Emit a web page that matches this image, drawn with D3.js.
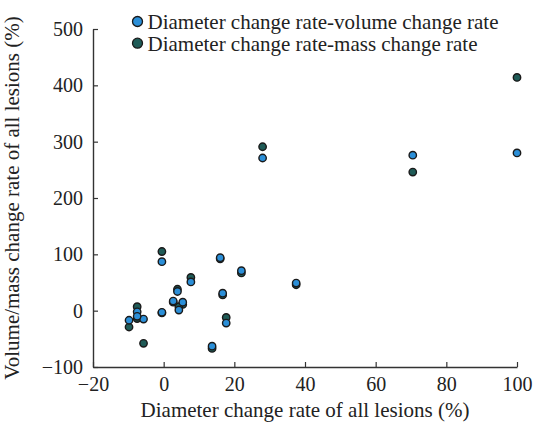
<!DOCTYPE html>
<html>
<head>
<meta charset="utf-8">
<script src="https://cdn.jsdelivr.net/npm/d3@7"></script>
<style>
  body { margin: 0; background: #fff; }
  text { font-family: "Liberation Serif", "Times New Roman", serif; fill: #222; }
</style>
</head>
<body>
<div id="chart"></div>
<script>
// diameter change rate for each lesion (%)
const diameterRate = [100, 70.5, 28, 37.5, 22, 16, 16.7, 17.7, 13.7, 7.7, 5.4, 3.9, 4.3, 2.7, -0.5, -0.5, -5.7, -7.5, -7.5, -9.8];
// volume change rate (%)
const volumeRate = [280, 276, 271, 49, 71, 94, 31, -22, -63, 51, 15, 34, 1, 17, 87, -3, -15, -2, -10, -17];
// mass change rate (%)
const massRate = [414, 246, 291, 46, 67, 92, 28, -12, -67, 59, 11, 38, 7, 15, 105, -4, -58, 7, -14, -29];

const xTicks = [-20, 0, 20, 40, 60, 80, 100];
const yTicks = [-100, 0, 100, 200, 300, 400, 500];

const seriesNames = ["Diameter change rate-volume change rate", "Diameter change rate-mass change rate"];
const seriesColors = ["#2b8fd8", "#1f5b57"];

const width = 538, height = 422;
const margin = { top: 29, right: 21, bottom: 55, left: 93 };
const innerW = width - margin.left - margin.right;
const innerH = height - margin.top - margin.bottom;

const svg = d3.select("#chart").append("svg")
    .attr("width", width)
    .attr("height", height);

const g = svg.append("g")
    .attr("transform", `translate(${margin.left},${margin.top})`);

const x = d3.scaleLinear().domain([-20, 100]).range([0, innerW]);
const y = d3.scaleLinear().domain([-100, 500]).range([innerH, 0]);

const minus = d => d < 0 ? "\u2212" + Math.abs(d) : d;

// axes, ticks pointing inward
const xAxis = g.append("g")
    .attr("transform", `translate(0,${innerH})`)
    .call(d3.axisBottom(x).tickValues(xTicks).tickSizeInner(-5).tickSizeOuter(0).tickFormat(minus));
const yAxis = g.append("g")
    .call(d3.axisLeft(y).tickValues(yTicks).tickSizeInner(-5).tickSizeOuter(0).tickFormat(minus));

[xAxis, yAxis].forEach(a => {
    a.select(".domain").attr("stroke", "#333").attr("stroke-width", 1.4);
    a.selectAll(".tick line").attr("stroke", "#333").attr("stroke-width", 1.2);
    a.selectAll(".tick text")
        .style("font-family", "Liberation Serif")
        .style("font-size", "20px")
        .attr("fill", "#222");
});
xAxis.selectAll(".tick text").attr("y", 10).attr("dy", "0.71em");
yAxis.selectAll(".tick text").attr("x", -10);

// axis titles
g.append("text")
    .attr("x", innerW / 2)
    .attr("y", innerH + 50)
    .attr("text-anchor", "middle")
    .style("font-size", "21px")
    .text("Diameter change rate of all lesions (%)");

g.append("text")
    .attr("transform", `translate(${18.5 - margin.left},${innerH / 2}) rotate(-90)`)
    .attr("text-anchor", "middle")
    .style("font-size", "21px")
    .text("Volume/mass change rate of all lesions (%)");

// points: mass first, volume on top
const massPts = diameterRate.map((d, i) => ({ x: d, y: massRate[i] }));
const volPts = diameterRate.map((d, i) => ({ x: d, y: volumeRate[i] }));

[[massPts, seriesColors[1]], [volPts, seriesColors[0]]].forEach(([pts, col]) => {
    g.append("g").selectAll("circle")
        .data(pts)
        .join("circle")
        .attr("cx", d => x(d.x))
        .attr("cy", d => y(d.y))
        .attr("r", 3.7)
        .attr("fill", col)
        .attr("stroke", "#1a1a1a")
        .attr("stroke-width", 1.4);
});

// legend
const legend = svg.append("g").attr("transform", "translate(137.5,21.5)");
seriesNames.forEach((name, i) => {
    const row = legend.append("g").attr("transform", `translate(0,${i * 21.7})`);
    row.append("circle")
        .attr("r", 5)
        .attr("fill", seriesColors[i])
        .attr("stroke", "#1a1a1a")
        .attr("stroke-width", 1.3);
    row.append("text")
        .attr("x", 10)
        .attr("y", 0)
        .attr("dy", "0.35em")
        .style("font-size", "21px")
        .text(name);
});
</script>
</body>
</html>
